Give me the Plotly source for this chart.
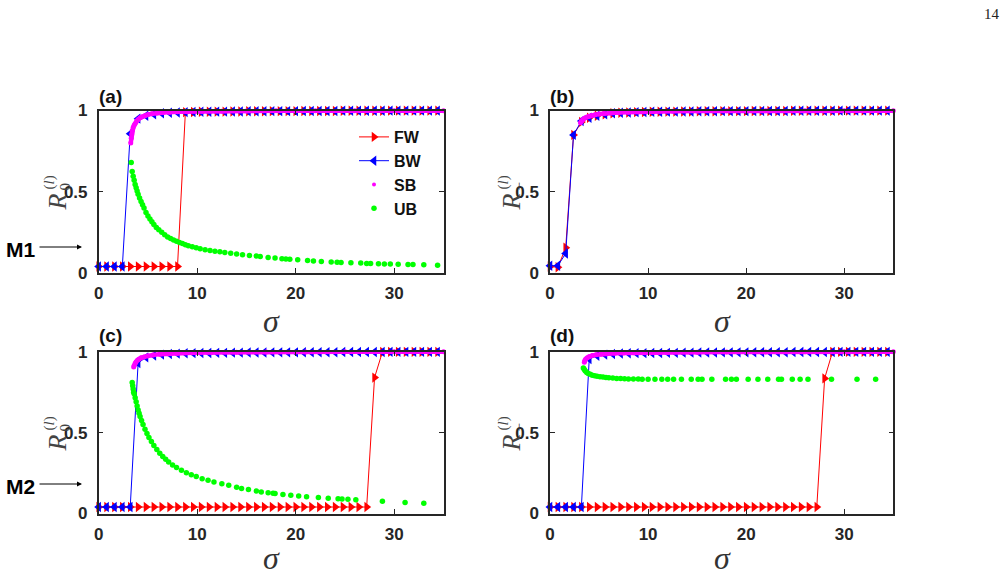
import plotly.graph_objects as go

# ---------------- data ----------------
sigma_grid = [0.0, 0.8, 1.6, 2.4, 3.2, 4.0, 4.8, 5.6, 6.4, 7.2, 8.0, 8.8, 9.6, 10.4, 11.2,
              12.0, 12.8, 13.6, 14.4, 15.2, 16.0, 16.8, 17.6, 18.4, 19.2, 20.0, 20.8, 21.6,
              22.4, 23.2, 24.0, 24.8, 25.6, 26.4, 27.2, 28.0, 28.8, 29.6, 30.4, 31.2, 32.0,
              32.8, 33.6, 34.4]

# panel (a)  M1, R_0
fw_a = [0.04, 0.04, 0.04, 0.04, 0.04, 0.04, 0.04, 0.04, 0.04, 0.04, 0.04, 0.99, 0.991, 0.992,
        0.992, 0.993, 0.993, 0.994, 0.994, 0.995, 0.995, 0.995, 0.996, 0.996, 0.996, 0.996,
        0.997, 0.997, 0.997, 0.997, 0.997, 0.998, 0.998, 0.998, 0.998, 0.998, 0.998, 0.999,
        0.999, 0.999, 0.999, 0.999, 0.999, 0.999]
bw_a = [0.04, 0.04, 0.04, 0.04, 0.857, 0.95, 0.968, 0.977, 0.983, 0.986, 0.988, 0.99, 0.991,
        0.992, 0.992, 0.993, 0.993, 0.994, 0.994, 0.995, 0.995, 0.995, 0.996, 0.996, 0.996,
        0.996, 0.997, 0.997, 0.997, 0.997, 0.997, 0.998, 0.998, 0.998, 0.998, 0.998, 0.998,
        0.999, 0.999, 0.999, 0.999, 0.999, 0.999, 0.999]
sb_a_x = [3.25, 3.3, 3.35, 3.4, 3.5, 3.6, 3.7, 3.85, 4.0, 4.2, 4.4, 4.7, 5.0, 5.4, 5.9, 6.5,
          7.2, 8.0, 9.0, 10.5, 12.5, 15.0, 18.0, 22.0, 26.0, 30.0, 35.0]
sb_a_y = [0.80, 0.83, 0.855, 0.875, 0.895, 0.91, 0.92, 0.935, 0.945, 0.955, 0.962, 0.97,
          0.975, 0.98, 0.984, 0.987, 0.99, 0.992, 0.993, 0.995, 0.996, 0.997, 0.998, 0.998,
          0.999, 0.999, 0.999]
ub_a_x = [3.3, 3.4, 3.5, 3.6, 3.7, 3.8, 3.9, 4.0, 4.15, 4.3, 4.45, 4.6, 4.8, 5.0, 5.2, 5.4,
          5.6, 5.85, 6.1, 6.4, 6.7, 7.0, 7.3, 7.6, 7.9, 8.2, 8.5, 8.8, 9.1, 9.5, 9.9, 10.3,
          10.8, 11.3, 11.8, 12.3, 12.8, 13.4, 14.0, 14.6, 15.3, 16.0, 16.4, 17.2, 17.9, 18.6,
          19.0, 19.4, 20.2, 21.2, 21.8, 22.6, 23.6, 24.2, 24.6, 25.6, 26.6, 27.2, 27.6, 28.4,
          29.0, 29.6, 30.4, 31.4, 31.9, 33.0, 34.4]
ub_a_y = [0.68, 0.625, 0.595, 0.57, 0.545, 0.525, 0.505, 0.485, 0.462, 0.44, 0.42, 0.40,
          0.372, 0.35, 0.333, 0.316, 0.298, 0.28, 0.266, 0.25, 0.236, 0.222, 0.212, 0.203,
          0.195, 0.188, 0.181, 0.174, 0.168, 0.161, 0.155, 0.149, 0.143, 0.138, 0.134, 0.13,
          0.126, 0.121, 0.117, 0.113, 0.108, 0.104, 0.101, 0.096, 0.092, 0.088, 0.086, 0.084,
          0.081, 0.077, 0.074, 0.071, 0.068, 0.066, 0.065, 0.063, 0.061, 0.059, 0.058, 0.057,
          0.056, 0.055, 0.054, 0.053, 0.052, 0.05, 0.048]

# panel (b)  M1, R_-
fw_b = [0.04, 0.035, 0.155, 0.85, 0.93, 0.955, 0.968, 0.977, 0.983, 0.986, 0.988, 0.99, 0.991,
        0.992, 0.992, 0.993, 0.993, 0.994, 0.994, 0.995, 0.995, 0.995, 0.996, 0.996, 0.996,
        0.996, 0.997, 0.997, 0.997, 0.997, 0.997, 0.998, 0.998, 0.998, 0.998, 0.998, 0.998,
        0.999, 0.999, 0.999, 0.999, 0.999, 0.999, 0.999]
bw_b = [0.045, 0.045, 0.12, 0.85, 0.935, 0.955, 0.968, 0.977, 0.983, 0.986, 0.988, 0.99, 0.991,
        0.992, 0.992, 0.993, 0.993, 0.994, 0.994, 0.995, 0.995, 0.995, 0.996, 0.996, 0.996,
        0.996, 0.997, 0.997, 0.997, 0.997, 0.997, 0.998, 0.998, 0.998, 0.998, 0.998, 0.998,
        0.999, 0.999, 0.999, 0.999, 0.999, 0.999, 0.999]
sb_b_x = [3.1, 3.2, 3.35, 3.5, 3.7, 3.9, 4.2, 4.6, 5.0, 5.5, 6.2, 7.0, 8.0, 9.0, 10.5, 12.5,
          15.0, 18.0, 22.0, 26.0, 30.0, 35.0]
sb_b_y = [0.925, 0.935, 0.945, 0.952, 0.958, 0.963, 0.969, 0.974, 0.978, 0.982, 0.985, 0.988,
          0.99, 0.992, 0.994, 0.996, 0.997, 0.998, 0.998, 0.999, 0.999, 0.999]

# panel (c)  M2, R_0
fw_c = [0.04, 0.04, 0.04, 0.04, 0.04, 0.04, 0.04, 0.04, 0.04, 0.04, 0.04, 0.04, 0.04, 0.04,
        0.04, 0.04, 0.04, 0.04, 0.04, 0.04, 0.04, 0.04, 0.04, 0.04, 0.04, 0.04, 0.04, 0.04,
        0.04, 0.04, 0.04, 0.04, 0.04, 0.04, 0.04, 0.84, 0.998, 0.999, 0.999, 0.999, 0.999,
        0.999, 0.999, 0.999]
bw_c = [0.04, 0.04, 0.04, 0.04, 0.04, 0.93, 0.965, 0.976, 0.982, 0.986, 0.988, 0.99, 0.991,
        0.992, 0.992, 0.993, 0.993, 0.994, 0.994, 0.995, 0.995, 0.995, 0.996, 0.996, 0.996,
        0.996, 0.997, 0.997, 0.997, 0.997, 0.997, 0.998, 0.998, 0.998, 0.998, 0.998, 0.998,
        0.999, 0.999, 0.999, 0.999, 0.999, 0.999, 0.999]
sb_c_x = [3.55, 3.6, 3.7, 3.8, 3.95, 4.1, 4.3, 4.6, 5.0, 5.5, 6.2, 7.0, 8.0, 9.5, 11.5, 14.0,
          17.0, 21.0, 25.0, 30.0, 35.0]
sb_c_y = [0.905, 0.915, 0.928, 0.938, 0.948, 0.955, 0.962, 0.968, 0.975, 0.98, 0.985, 0.988,
          0.99, 0.993, 0.995, 0.997, 0.998, 0.998, 0.999, 0.999, 0.999]
ub_c_x = [3.4, 3.45, 3.5, 3.55, 3.6, 3.7, 3.8, 3.9, 4.0, 4.1, 4.2, 4.35, 4.5, 4.7, 4.9, 5.1,
          5.35, 5.6, 5.9, 6.2, 6.5, 6.8, 7.1, 7.5, 7.9, 8.4, 8.9, 9.4, 9.9, 10.5, 11.1, 11.7,
          12.5, 13.2, 14.0, 14.5, 15.2, 16.0, 16.5, 17.2, 17.7, 17.9, 18.7, 19.5, 20.3, 21.1,
          22.3, 23.3, 24.3, 24.7, 25.3, 26.1, 28.8, 31.1, 33.0]
ub_c_y = [0.81, 0.79, 0.77, 0.75, 0.74, 0.715, 0.69, 0.665, 0.64, 0.62, 0.60, 0.575, 0.55,
          0.52, 0.495, 0.47, 0.445, 0.42, 0.395, 0.372, 0.352, 0.335, 0.318, 0.30, 0.284,
          0.267, 0.252, 0.24, 0.228, 0.215, 0.205, 0.195, 0.184, 0.175, 0.163, 0.155, 0.148,
          0.139, 0.133, 0.128, 0.125, 0.124, 0.118, 0.113, 0.108, 0.104, 0.099, 0.095, 0.091,
          0.09, 0.088, 0.085, 0.075, 0.068, 0.064]

# panel (d)  M2, R_-
fw_d = [0.04, 0.04, 0.04, 0.04, 0.04, 0.04, 0.04, 0.04, 0.04, 0.04, 0.04, 0.04, 0.04, 0.04,
        0.04, 0.04, 0.04, 0.04, 0.04, 0.04, 0.04, 0.04, 0.04, 0.04, 0.04, 0.04, 0.04, 0.04,
        0.04, 0.04, 0.04, 0.04, 0.04, 0.04, 0.04, 0.835, 0.998, 0.999, 0.999, 0.999, 0.999,
        0.999, 0.999, 0.999]
bw_d = [0.04, 0.04, 0.04, 0.04, 0.04, 0.955, 0.975, 0.982, 0.986, 0.989, 0.99, 0.991, 0.991,
        0.992, 0.992, 0.993, 0.993, 0.994, 0.994, 0.995, 0.995, 0.995, 0.996, 0.996, 0.996,
        0.996, 0.997, 0.997, 0.997, 0.997, 0.997, 0.998, 0.998, 0.998, 0.998, 0.998, 0.998,
        0.999, 0.999, 0.999, 0.999, 0.999, 0.999, 0.999]
sb_d_x = [3.5, 3.55, 3.65, 3.8, 4.0, 4.3, 4.7, 5.2, 5.8, 6.6, 7.5, 8.5, 10.0, 12.0, 15.0,
          18.0, 22.0, 26.0, 30.0, 35.0]
sb_d_y = [0.935, 0.945, 0.955, 0.963, 0.97, 0.976, 0.981, 0.985, 0.988, 0.99, 0.992, 0.993,
          0.995, 0.996, 0.997, 0.998, 0.998, 0.999, 0.999, 0.999]
ub_d_x = [3.4, 3.5, 3.6, 3.75, 3.9, 4.1, 4.3, 4.55, 4.8, 5.1, 5.4, 5.7, 6.0, 6.4, 6.8, 7.2,
          7.6, 8.0, 8.5, 9.0, 9.4, 10.0, 10.7, 11.4, 12.0, 12.6, 13.4, 14.4, 15.1, 15.5, 16.5,
          17.9, 18.5, 19.0, 20.2, 21.2, 22.2, 23.3, 23.6, 24.7, 25.5, 26.3, 28.7, 31.3, 33.2]
ub_d_y = [0.90, 0.89, 0.88, 0.872, 0.866, 0.86, 0.855, 0.851, 0.848, 0.845, 0.843, 0.841,
          0.839, 0.837, 0.835, 0.834, 0.833, 0.832, 0.831, 0.831, 0.83, 0.83, 0.83, 0.83,
          0.83, 0.829, 0.829, 0.829, 0.829, 0.829, 0.829, 0.829, 0.829, 0.829, 0.829, 0.829,
          0.829, 0.829, 0.829, 0.829, 0.829, 0.829, 0.829, 0.829, 0.829]

x_ticks = [0, 10, 20, 30]
y_ticks = [0, 0.5, 1]
y_tick_text = ["0", "0.5", "1"]
panel_labels = ["(a)", "(b)", "(c)", "(d)"]
model_labels = ["M1", "M2"]
series_names = ["FW", "BW", "SB", "UB"]

# ---------------- figure ----------------
W, H = 1008, 575
RED, BLUE, MAG, GRN = "#ff0000", "#0000ff", "#ff00ff", "#00ff00"
AX = "#262626"


def px(x):
    return x / W


def py(y):
    return 1 - y / H


fig = go.Figure()

panels = [
    dict(xa="x", ya="y", fw=fw_a, bw=bw_a, sbx=sb_a_x, sby=sb_a_y, ubx=ub_a_x, uby=ub_a_y),
    dict(xa="x2", ya="y2", fw=fw_b, bw=bw_b, sbx=sb_b_x, sby=sb_b_y, ubx=None, uby=None),
    dict(xa="x3", ya="y3", fw=fw_c, bw=bw_c, sbx=sb_c_x, sby=sb_c_y, ubx=ub_c_x, uby=ub_c_y),
    dict(xa="x4", ya="y4", fw=fw_d, bw=bw_d, sbx=sb_d_x, sby=sb_d_y, ubx=ub_d_x, uby=ub_d_y),
]

for i, p in enumerate(panels):
    leg = (i == 0)
    fig.add_trace(go.Scatter(x=sigma_grid, y=p["fw"], xaxis=p["xa"], yaxis=p["ya"],
                             mode="lines+markers", name=series_names[0], showlegend=leg,
                             line=dict(color=RED, width=1),
                             marker=dict(symbol="triangle-right", size=9, color=RED),
                             cliponaxis=False))
    fig.add_trace(go.Scatter(x=sigma_grid, y=p["bw"], xaxis=p["xa"], yaxis=p["ya"],
                             mode="lines+markers", name=series_names[1], showlegend=leg,
                             line=dict(color=BLUE, width=1),
                             marker=dict(symbol="triangle-left", size=9, color=BLUE),
                             cliponaxis=False))
    fig.add_trace(go.Scatter(x=p["sbx"], y=p["sby"], xaxis=p["xa"], yaxis=p["ya"],
                             mode="lines+markers", name=series_names[2], showlegend=False,
                             line=dict(color=MAG, width=4.5),
                             marker=dict(symbol="circle", size=5, color=MAG),
                             cliponaxis=False))
    if leg:
        fig.add_trace(go.Scatter(x=[None], y=[None], xaxis=p["xa"], yaxis=p["ya"],
                                 mode="markers", name=series_names[2], showlegend=True,
                                 marker=dict(symbol="circle", size=4, color=MAG)))
    if p["ubx"] is not None:
        fig.add_trace(go.Scatter(x=p["ubx"], y=p["uby"], xaxis=p["xa"], yaxis=p["ya"],
                                 mode="markers", name=series_names[3], showlegend=leg,
                                 marker=dict(symbol="circle", size=5.5, color=GRN),
                                 cliponaxis=False))

xdom_l = [px(98.7), px(443.5)]
xdom_r = [px(550.0), px(893.3)]
ydom_t = [py(273.0), py(110.5)]
ydom_b = [py(513.5), py(351.7)]

tickfont = dict(family="Liberation Sans, Arial, sans-serif", size=17, color=AX, weight="bold")


def xaxis(dom, anchor):
    return dict(domain=dom, anchor=anchor, range=[0, 35], tickvals=x_ticks,
                ticktext=[str(t) for t in x_ticks], ticks="inside", ticklen=5, tickwidth=1.2,
                tickcolor=AX, showline=True, linecolor=AX, linewidth=1.5, mirror="ticks",
                showgrid=False, zeroline=False, tickfont=tickfont, ticklabelstandoff=4)


def yaxis(dom, anchor):
    return dict(domain=dom, anchor=anchor, range=[0, 1], tickvals=y_ticks,
                ticktext=y_tick_text, ticks="inside", ticklen=5, tickwidth=1.2,
                tickcolor=AX, showline=True, linecolor=AX, linewidth=1.5, mirror="ticks",
                showgrid=False, zeroline=False, tickfont=tickfont, ticklabelstandoff=6)


annotations = []
# panel labels
for lab, (cx, cy) in zip(panel_labels, [(110, 96), (562, 96), (110, 335), (562, 335)]):
    annotations.append(dict(text="<b>" + lab + "</b>", x=px(cx), y=py(cy), xref="paper",
                            yref="paper", showarrow=False, xanchor="center", yanchor="middle",
                            font=dict(family="Liberation Sans, Arial", size=19, color="#111")))
# sigma axis titles
for cx, cy in [(271, 321), (722, 321), (271, 558), (722, 558)]:
    annotations.append(dict(text="<i>σ</i>", x=px(cx), y=py(cy), xref="paper", yref="paper",
                            showarrow=False, xanchor="center", yanchor="middle",
                            font=dict(family="Liberation Serif, Times New Roman", size=32,
                                      color="#333")))
# y labels (rotated): R with stacked sub / superscript
ylab_font = dict(family="Liberation Serif, Times New Roman", size=26, color="#444")
small_font = dict(family="Liberation Serif, Times New Roman", size=15, color="#444")
for (x0, yc, sub) in [(57, 191.5, "0"), (511, 191.5, "−"), (57, 432.5, "0"), (511, 432.5, "−")]:
    annotations.append(dict(text="<i>R</i>", x=px(x0), y=py(yc + 11), xref="paper",
                            yref="paper", showarrow=False, textangle=-90, xanchor="center",
                            yanchor="middle", font=ylab_font))
    annotations.append(dict(text=sub, x=px(x0 + 7), y=py(yc - 5), xref="paper", yref="paper",
                            showarrow=False, textangle=-90, xanchor="center", yanchor="middle",
                            font=small_font))
    annotations.append(dict(text="(<i>l</i>)", x=px(x0 - 8), y=py(yc - 9), xref="paper",
                            yref="paper", showarrow=False, textangle=-90, xanchor="center",
                            yanchor="middle", font=small_font))
# M1 / M2 with arrows
for lab, cy in zip(model_labels, [249, 486]):
    annotations.append(dict(text="<b>" + lab + "</b>", x=px(20), y=py(cy), xref="paper",
                            yref="paper", showarrow=False, xanchor="center", yanchor="middle",
                            font=dict(family="Liberation Sans, Arial", size=21, color="#000")))
    annotations.append(dict(text="", x=px(82), y=py(cy - 2), xref="paper", yref="paper",
                            showarrow=True, ax=-44, ay=0, arrowhead=2, arrowsize=1,
                            arrowwidth=1, arrowcolor="#000", standoff=0, startstandoff=0))
# page number
annotations.append(dict(text="14", x=px(992), y=py(14), xref="paper", yref="paper",
                        showarrow=False, xanchor="center", yanchor="middle",
                        font=dict(family="Liberation Serif, Times New Roman", size=15,
                                  color="#222")))

fig.update_layout(
    width=W, height=H, margin=dict(l=0, r=0, t=0, b=0, autoexpand=False),
    paper_bgcolor="white", plot_bgcolor="white",
    xaxis=xaxis(xdom_l, "y"), yaxis=yaxis(ydom_t, "x"),
    xaxis2=xaxis(xdom_r, "y2"), yaxis2=yaxis(ydom_t, "x2"),
    xaxis3=xaxis(xdom_l, "y3"), yaxis3=yaxis(ydom_b, "x3"),
    xaxis4=xaxis(xdom_r, "y4"), yaxis4=yaxis(ydom_b, "x4"),
    showlegend=True,
    legend=dict(x=px(354), y=py(120), xanchor="left", yanchor="top",
                bgcolor="rgba(0,0,0,0)", borderwidth=0,
                font=dict(family="Liberation Sans, Arial", size=16, color="#111",
                          weight="bold"),
                itemwidth=30, tracegroupgap=0),
    annotations=annotations,
)

fig.write_html("out.html")
